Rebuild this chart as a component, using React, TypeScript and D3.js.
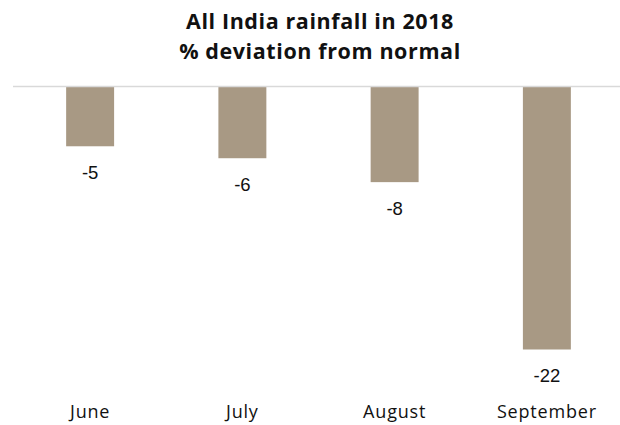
import React from "react";
import * as d3 from "d3";

const months = ["June", "July", "August", "September"];
const deviation = [-5, -6, -8, -22];
const titleLines = ["All India rainfall in 2018", "% deviation from normal"];

const W = 620;
const H = 425;
const barColor = "#a89984";
const textColor = "#111111";
const gridColor = "#d9d9d9";
const labelFont = "'Open Sans', 'Noto Sans', sans-serif";
const valueFont = "'Liberation Sans', Arial, sans-serif";

export default function App() {
  const x = d3
    .scaleBand<string>()
    .domain(months)
    .range([14, 623])
    .paddingInner(0.685)
    .paddingOuter(0.3425);

  const y = d3.scaleLinear().domain([0, -22]).range([86.5, 349.5]);

  return (
    <svg
      width={W}
      height={H}
      style={{ position: "absolute", left: 0, top: 0, background: "#fff" }}
    >
      {titleLines.map((t, i) => (
        <text
          key={t}
          x={320}
          y={28.5 + i * 30}
          textAnchor="middle"
          fontFamily={labelFont}
          fontWeight={700}
          fontSize={21.5}
          letterSpacing={0.6}
          fill={textColor}
        >
          {t}
        </text>
      ))}

      {months.map((m, i) => {
        const v = deviation[i];
        const x0 = x(m)!;
        const top = y(0);
        const bottom = y(v);
        return (
          <g key={m}>
            <rect
              x={x0}
              y={top}
              width={x.bandwidth()}
              height={bottom - top}
              fill={barColor}
            />
            <text
              x={x0 + x.bandwidth() / 2}
              y={bottom + 32.5}
              textAnchor="middle"
              fontFamily={valueFont}
              fontSize={18.5}
              fill={textColor}
            >
              {v}
            </text>
            <text
              x={x0 + x.bandwidth() / 2}
              y={418}
              textAnchor="middle"
              fontFamily={labelFont}
              fontSize={18}
              letterSpacing={0.8}
              fill={textColor}
            >
              {m}
            </text>
          </g>
        );
      })}

      <line
        x1={13}
        x2={620}
        y1={y(0)}
        y2={y(0)}
        stroke={gridColor}
        strokeWidth={1.5}
      />
    </svg>
  );
}
